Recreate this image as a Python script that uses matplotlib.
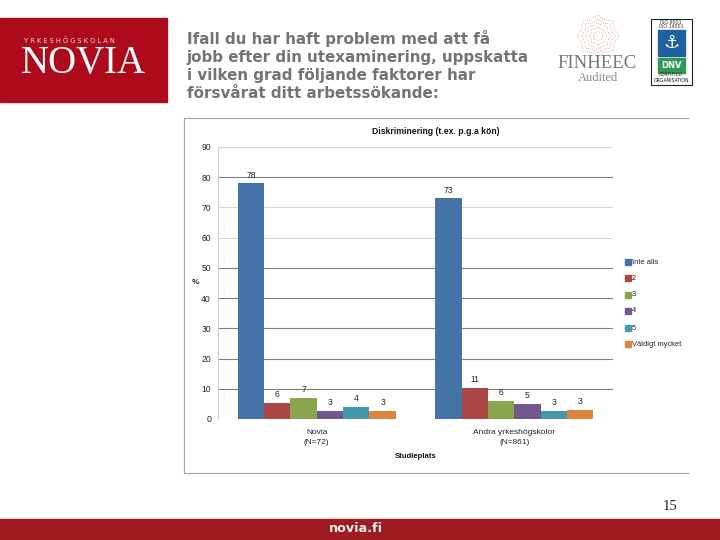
import numpy as np
import matplotlib
matplotlib.use('Agg')
import matplotlib.pyplot as plt
from matplotlib.patches import Rectangle

# data
schools = ['Novia\n(N=72)', 'Andra yrkeshögskolor\n(N=861)']
answers = ['Inte alls', '2', '3', '4', '5', 'Väldigt mycket']
novia = [78, 5.3, 7, 2.7, 4, 2.7]
andra = [73, 10.3, 6, 5, 2.7, 3]
novia_labels = ['78', '6', '7', '3', '4', '3']
andra_labels = ['73', '11', '6', '5', '3', '3']
colors = ['#4572a7', '#aa4643', '#89a54e', '#71588f', '#4198af', '#db843d']
yticks = [0, 10, 20, 30, 40, 50, 60, 70, 80, 90]
dark_grid = [10, 20, 30, 40, 50, 80]
light_grid = [60, 70, 90]

title = ('Ifall du har haft problem med att få\n'
         'jobb efter din utexaminering, uppskatta\n'
         'i vilken grad följande faktorer har\n'
         'försvårat ditt arbetssökande:')

fig = plt.figure(figsize=(7.2, 5.4), dpi=100, facecolor='white')

# background layer in pixels
bg = fig.add_axes([0, 0, 1, 1])
bg.set_xlim(0, 720)
bg.set_ylim(540, 0)
bg.axis('off')

# novia logo
bg.add_patch(Rectangle((0, 18), 167, 84, color='#ad0b1b'))
bg.text(24, 41, 'Y R K E S H Ö G S K O L A N', color='#f3d5d5', fontsize=4.8, family='DejaVu Sans', va='center')
bg.text(83.5, 64, 'NOVIA', color='white', fontsize=28, family='Liberation Serif', va='center', ha='center')

# slide title
bg.text(187, 65.5, title, color='#737373', fontsize=10.9, family='DejaVu Sans', weight='bold',
        va='center', ha='left', linespacing=1.27)

# finheec logo
for r in [5, 9, 13, 17, 21]:
    ang = np.linspace(0, 2 * np.pi, 17)
    rad = r * np.where(np.arange(17) % 2 == 0, 1.0, 0.84)
    bg.plot(598 + rad * np.sin(ang), 36 + rad * np.cos(ang), color='#dc8f85', lw=0.6, ls=':')
bg.text(597.5, 63, 'FINHEEC', color='#777777', fontsize=13.5, family='Liberation Serif', ha='center', va='center')
bg.text(598, 78, 'Audited', color='#888888', fontsize=9, family='Liberation Serif', ha='center', va='center')

# dnv badge
bg.add_patch(Rectangle((650.5, 18.5), 41, 66, fc='white', ec='#222222', lw=0.8))
bg.text(671, 22, 'ISO 9001', fontsize=3.4, ha='center', va='center', color='#333333')
bg.text(671, 27, 'ISO 14001', fontsize=3.4, ha='center', va='center', color='#333333')
bg.add_patch(Rectangle((658, 30), 27, 26, color='#20609f'))
bg.text(671.5, 43, '⚓', fontsize=13, color='white', ha='center', va='center')
bg.add_patch(Rectangle((658, 58), 27, 15, color='#2f9a55'))
bg.text(671.5, 65.5, 'DNV', fontsize=6, color='white', weight='bold', ha='center', va='center')
bg.text(671, 75, 'CERTIFIED', fontsize=3.4, ha='center', va='center', color='#333333')
bg.text(671, 80, 'ORGANISATION', fontsize=3.3, ha='center', va='center', color='#111111')

# frame round the chart, open on the right
bg.plot([688, 184, 184, 688], [118, 118, 473, 473], color='#a8a8a8', lw=0.9)

# chart text outside the plot area
bg.text(436, 131, 'Diskriminering (t.ex. p.g.a kön)', fontsize=6.2, weight='bold', family='Liberation Sans',
        ha='center', va='center', color='#111111')
bg.text(196, 283, '%', fontsize=6, ha='center', va='center', family='Liberation Sans', weight='bold', color='#222222')
bg.text(416, 457, 'Studieplats', fontsize=5.6, weight='bold', family='Liberation Sans', ha='center', va='center',
        color='#111111')

# legend
legend_y = [262, 278, 295, 311, 328, 344]
for i in range(6):
    bg.add_patch(Rectangle((625, legend_y[i] - 3), 5.5, 6, color=colors[i]))
    bg.text(632, legend_y[i], answers[i], fontsize=5.4, family='Liberation Sans', va='center', color='#222222')

# footer
bg.add_patch(Rectangle((0, 519), 720, 21, color='#9e1b22'))
bg.text(329, 529, 'novia.fi', color='#eeeeee', fontsize=9.2, weight='bold', family='DejaVu Sans', va='center')
bg.text(670, 506, '15', color='#222222', fontsize=10.5, family='Liberation Serif', ha='center', va='center')

# bar chart
ax = fig.add_axes([218 / 720, 1 - 419 / 540, (613 - 218) / 720, (419 - 147) / 540])
ax.patch.set_alpha(0)
ax.set_xlim(0, 2)
ax.set_ylim(0, 90)

for y in dark_grid:
    ax.axhline(y, color='#7f7f7f', lw=0.8, zorder=1)
for y in light_grid:
    ax.axhline(y, color='#d4d4d4', lw=0.7, zorder=1)

w = 1 / 7.5
x = np.arange(2) + 0.5
for i in range(6):
    vals = [novia[i], andra[i]]
    pos = x + (i - 2.5) * w
    ax.bar(pos, vals, width=w, color=colors[i], zorder=2)
    ax.text(pos[0], vals[0] + 1.2, novia_labels[i], fontsize=6.2, ha='center', va='bottom',
            family='Liberation Sans', color='#222222')
    ax.text(pos[1], vals[1] + 1.2, andra_labels[i], fontsize=6.2, ha='center', va='bottom',
            family='Liberation Sans', color='#222222')

for s in ['top', 'right', 'bottom']:
    ax.spines[s].set_visible(False)
ax.spines['left'].set_color('#d0d0d0')
ax.set_yticks(yticks)
ax.set_xticks(x)
ax.set_xticklabels(schools, linespacing=1.7)
ax.tick_params(axis='y', labelsize=6.2, length=0, pad=5, labelcolor='#222222')
ax.tick_params(axis='x', labelsize=6, length=0, pad=7, labelcolor='#222222')
for lab in ax.get_xticklabels() + ax.get_yticklabels():
    lab.set_family('Liberation Sans')

fig.savefig('out.png', dpi=100)
